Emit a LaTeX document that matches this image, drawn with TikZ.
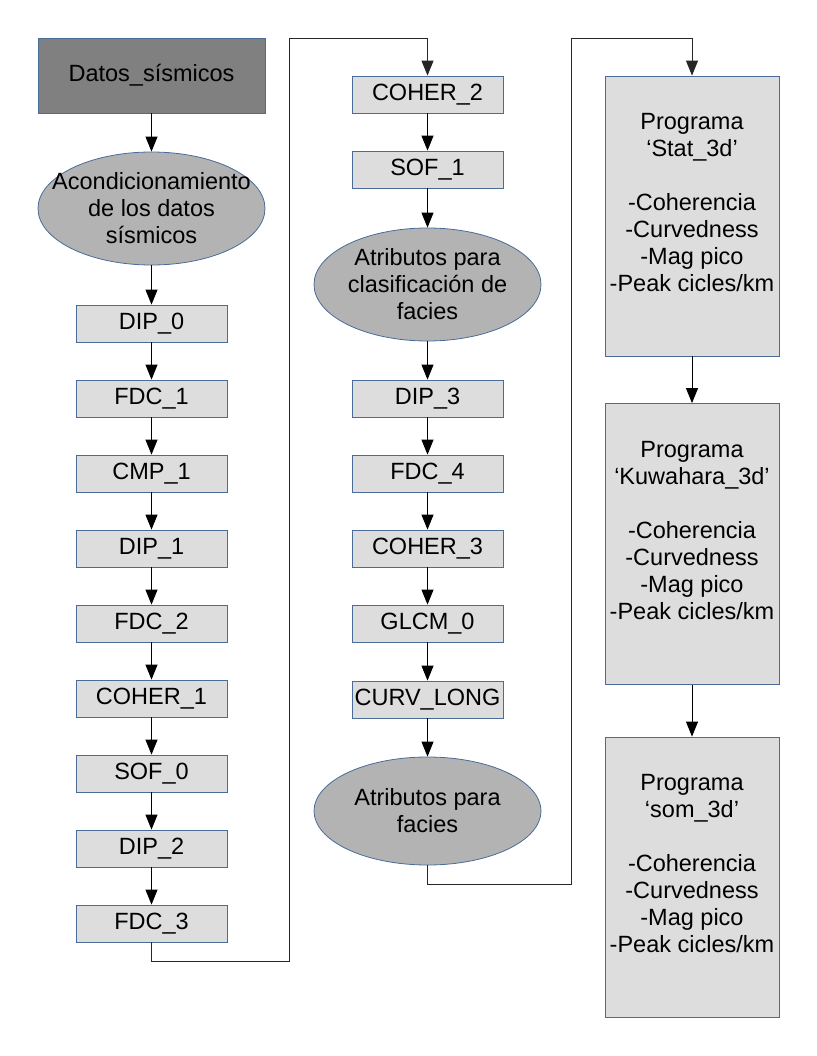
\documentclass[tikz,border=0pt]{standalone}
\usepackage{fontspec}
\setmainfont{Liberation Sans}
\usetikzlibrary{shapes.geometric,arrows.meta}
\definecolor{bordc}{HTML}{4A6C98}
\definecolor{darkf}{HTML}{808080}
\definecolor{ellf}{HTML}{B3B3B3}
\definecolor{lightf}{HTML}{DDDDDD}
\begin{document}
\begin{tikzpicture}[x=1pt,y=-1pt,
  font=\fontsize{23.5}{27}\selectfont,
  smallbox/.style={draw=bordc,line width=0.8pt,fill=lightf,minimum width=151pt,minimum height=37pt,inner sep=0pt},
  ellbox/.style={ellipse,draw=bordc,line width=0.8pt,fill=ellf,minimum width=227pt,minimum height=113pt,inner sep=0pt},
  bigbox/.style={draw=bordc,line width=0.8pt,fill=lightf,minimum width=174pt,minimum height=280pt,inner sep=0pt,align=center},
  txt/.style={align=center,inner sep=0pt},
  arr/.style={draw=black,line width=0.9pt,-{Triangle[length=15pt,width=12pt]}},
  conn/.style={draw=black!85,line width=0.9pt}]
\useasboundingbox (0,0) rectangle (816,1056);
% column 1
\node[draw=bordc,line width=0.8pt,fill=darkf,minimum width=227pt,minimum height=75pt,inner sep=0pt] (datos) at (151.5,75.5) {Datos\_sísmicos};
\node[ellbox] (e1) at (151.5,208.5) {};
\node[txt] (e1t) at (e1.center) {Acondicionamiento\\de los datos\\sísmicos};
\node[smallbox] (dip0) at (151.5,323.5) {DIP\_0};
\node[smallbox] (fdc1) at (151.5,398.5) {FDC\_1};
\node[smallbox] (cmp1) at (151.5,473.5) {CMP\_1};
\node[smallbox] (dip1) at (151.5,548.5) {DIP\_1};
\node[smallbox] (fdc2) at (151.5,623.5) {FDC\_2};
\node[smallbox] (coh1) at (151.5,698.5) {COHER\_1};
\node[smallbox] (sof0) at (151.5,773.5) {SOF\_0};
\node[smallbox] (dip2) at (151.5,848.5) {DIP\_2};
\node[smallbox] (fdc3) at (151.5,923.5) {FDC\_3};
% column 2
\node[smallbox] (coh2) at (427.5,94.5) {COHER\_2};
\node[smallbox] (sof1) at (427.5,169.5) {SOF\_1};
\node[ellbox] (e2) at (427.5,284.5) {};
\node[txt] (e2t) at (e2.center) {Atributos para\\clasificación de\\facies};
\node[smallbox] (dip3) at (427.5,398.5) {DIP\_3};
\node[smallbox] (fdc4) at (427.5,473.5) {FDC\_4};
\node[smallbox] (coh3) at (427.5,548.5) {COHER\_3};
\node[smallbox] (glcm) at (427.5,623.5) {GLCM\_0};
\node[smallbox] (curv) at (427.5,699.5) {CURV\_LONG};
\node[ellbox,minimum height=108pt] (e3) at (427.5,811) {};
\node[txt] (e3t) at (e3.center) {Atributos para\\facies};
% column 3
\node[bigbox] (stat) at (692,216) {Programa\\‘Stat\_3d’\\[27pt]-Coherencia\\-Curvedness\\-Mag pico\\-Peak cicles/km\\ \mbox{}};
\node[bigbox,minimum height=281pt] (kuw) at (692,544) {Programa\\‘Kuwahara\_3d’\\[27pt]-Coherencia\\-Curvedness\\-Mag pico\\-Peak cicles/km\\ \mbox{}};
\node[bigbox] (som) at (692,877) {Programa\\‘som\_3d’\\[27pt]-Coherencia\\-Curvedness\\-Mag pico\\-Peak cicles/km\\ \mbox{}};
% arrows column 1
\draw[arr] (datos) -- (e1);
\draw[arr] (e1) -- (dip0);
\draw[arr] (dip0) -- (fdc1);
\draw[arr] (fdc1) -- (cmp1);
\draw[arr] (cmp1) -- (dip1);
\draw[arr] (dip1) -- (fdc2);
\draw[arr] (fdc2) -- (coh1);
\draw[arr] (coh1) -- (sof0);
\draw[arr] (sof0) -- (dip2);
\draw[arr] (dip2) -- (fdc3);
% connector 1 -> 2
\coordinate (a1) at (289,961);
\coordinate (a2) at (289,38);
\draw[conn,-{Triangle[length=15pt,width=12pt]}] (fdc3.south) -- (fdc3.south |- a1) -- (a1) -- (a2) -- (coh2.north |- a2) -- (coh2.north);
% arrows column 2
\draw[arr] (coh2) -- (sof1);
\draw[arr] (sof1) -- (e2);
\draw[arr] (e2) -- (dip3);
\draw[arr] (dip3) -- (fdc4);
\draw[arr] (fdc4) -- (coh3);
\draw[arr] (coh3) -- (glcm);
\draw[arr] (glcm) -- (curv);
\draw[arr] (curv) -- (e3);
% connector 2 -> 3
\coordinate (b1) at (571,884);
\coordinate (b2) at (571,38);
\draw[conn,-{Triangle[length=15pt,width=12pt]}] (e3.south) -- (e3.south |- b1) -- (b1) -- (b2) -- (stat.north |- b2) -- (stat.north);
% arrows column 3
\draw[arr] (stat) -- (kuw);
\draw[arr] (kuw) -- (som);
\end{tikzpicture}
\end{document}
